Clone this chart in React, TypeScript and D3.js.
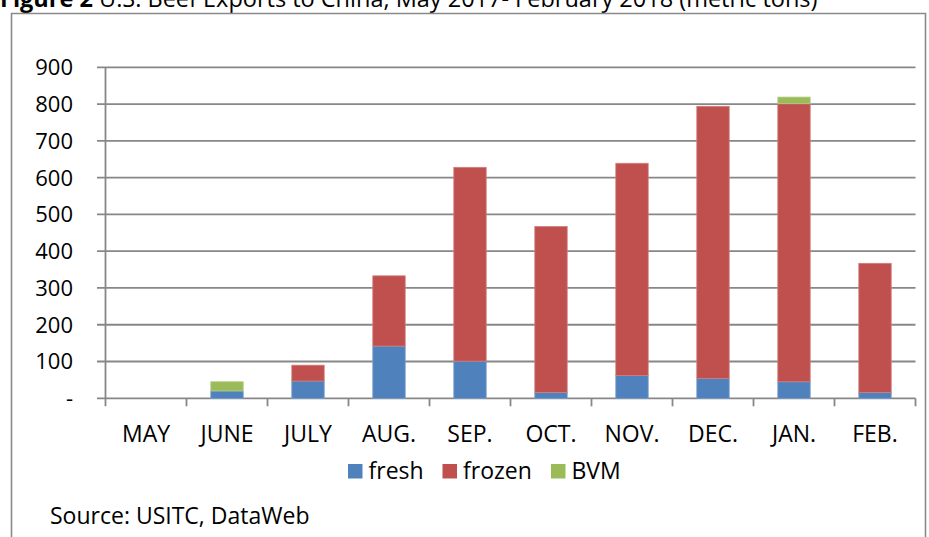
import React from "react";
import * as d3 from "d3";

const categories = ["MAY", "JUNE", "JULY", "AUG.", "SEP.", "OCT.", "NOV.", "DEC.", "JAN.", "FEB."];
const fresh = [0, 20, 47, 142, 101, 16, 62, 54, 45, 16];
const frozen = [0, 0, 43, 191, 527, 451, 577, 740, 756, 351];
const bvm = [0, 25, 0, 0, 0, 0, 0, 0, 18, 0];
const yTicks = [0, 100, 200, 300, 400, 500, 600, 700, 800, 900];
const seriesNames = ["fresh", "frozen", "BVM"];
const seriesColors = ["#4F81BD", "#C0504D", "#9BBB59"];
const strokeColors = ["#7A9DCB", "#D17E7C", "#B4CD86"];

const W = 929;
const H = 537;
const FONT = "'Open Sans', 'Noto Sans', sans-serif";

export default function App() {
  const left = 105.5;
  const right = 915.5;
  const top = 67.3;
  const bottom = 398.3;

  const x = d3.scaleBand<string>().domain(categories).range([left, right]).paddingInner(0).paddingOuter(0);
  const y = d3.scaleLinear().domain([0, 900]).range([bottom, top]);

  const rows = categories.map((c, i) => ({ cat: c, fresh: fresh[i], frozen: frozen[i], BVM: bvm[i] }));
  const stack = d3.stack<any>().keys(seriesNames)(rows);

  const bw = x.bandwidth() * 0.4;
  const gridColor = "#878787";

  return (
    <svg width={W} height={H} style={{ position: "absolute", left: 0, top: 0, background: "#fff" }} fontFamily={FONT}>
      <rect x={0} y={0} width={W} height={H} fill="#fff" />
      {/* title, clipped at top as in the source */}
      <text x={0} y={7} fontSize={23.5} fill="#000">
        <tspan fontWeight="bold">Figure 2</tspan>
        <tspan> U.S. Beef Exports to China, May 2017- February 2018 (metric tons)</tspan>
      </text>
      {/* frame */}
      <path d={`M11.5,${H} V13.5 H925.5 V${H}`} fill="none" stroke="#8a8a8a" strokeWidth={1.6} />

      {/* gridlines + y ticks */}
      {yTicks.map((t) => (
        <g key={t}>
          <line x1={97} x2={right} y1={y(t)} y2={y(t)} stroke={gridColor} strokeWidth={1.8} />
          <text x={73} y={y(t)} dy="0.36em" textAnchor="end" fontSize={22} fill="#000">
            {t === 0 ? "-" : d3.format("d")(t)}
          </text>
        </g>
      ))}
      {/* y axis */}
      <line x1={left} x2={left} y1={top} y2={bottom + 8} stroke={gridColor} strokeWidth={1.8} />
      {/* x tick marks */}
      {categories.map((c) => (
        <line key={c} x1={x(c)! + x.bandwidth()} x2={x(c)! + x.bandwidth()} y1={bottom} y2={bottom + 8} stroke={gridColor} strokeWidth={1.8} />
      ))}

      {/* bars */}
      {stack.map((s, si) => (
        <g key={s.key}>
          {s.map((d, i) =>
            d[1] - d[0] > 0 ? (
              <rect
                key={i}
                x={x(categories[i])! + (x.bandwidth() - bw) / 2}
                y={y(d[1])}
                width={bw}
                height={y(d[0]) - y(d[1])}
                fill={seriesColors[si]}
                stroke={strokeColors[si]}
                strokeWidth={0.8}
              />
            ) : null
          )}
        </g>
      ))}

      {/* x labels */}
      {categories.map((c) => (
        <text key={c} x={x(c)! + x.bandwidth() / 2} y={441.5} textAnchor="middle" fontSize={23} fill="#000">
          {c}
        </text>
      ))}

      {/* legend */}
      {seriesNames.map((n, i) => {
        const lx = [348, 442.5, 551][i];
        return (
          <g key={n}>
            <rect x={lx} y={464} width={14.5} height={14.5} fill={seriesColors[i]} />
            <text x={lx + 20.5} y={478.5} fontSize={23} fill="#000">
              {n}
            </text>
          </g>
        );
      })}

      <text x={50} y={524} fontSize={23} fill="#000">
        Source: USITC, DataWeb
      </text>
    </svg>
  );
}
